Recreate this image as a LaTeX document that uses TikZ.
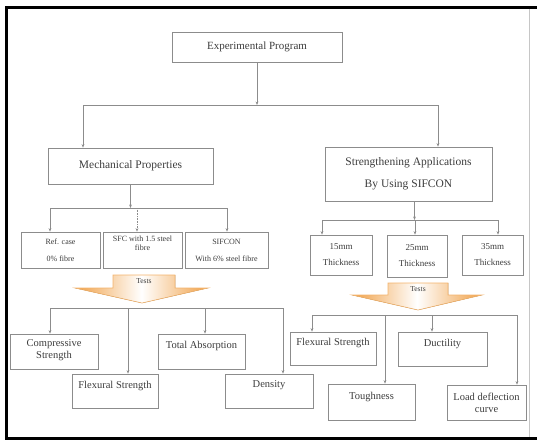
\documentclass[tikz,border=0pt]{standalone}
\usepackage{fontspec}
\setmainfont{Liberation Serif}
\usepackage{tikz}
\usetikzlibrary{arrows.meta}
\definecolor{boxgray}{RGB}{140,140,140}
\definecolor{txtgray}{RGB}{60,60,60}
\definecolor{testorange}{RGB}{240,160,70}

\begin{document}
\begin{tikzpicture}[x=1pt,y=-1pt,
  box/.style={draw=boxgray, line width=0.7pt, inner sep=1pt, align=center, text=txtgray},
  topbox/.style={box, text depth=13pt},
  link/.style={draw=boxgray, line width=0.6pt},
  arr/.style={link, -{Stealth[length=3.5pt,width=2.8pt]}},
  testarrow/.style={draw=testorange!80, line width=0.6pt, left color=testorange, right color=testorange, middle color=white}]
\useasboundingbox (0,0) rectangle (537,441);
% Frame
\draw[line width=3pt] (537,8) -- (6.5,8) -- (6.5,438) -- (537,438);
\draw[boxgray!50, line width=0.6pt] (529,9.5) -- (529,436.5);
%TOP
\node[box, minimum width=170pt, minimum height=30pt, font=\fontsize{11}{13}\selectfont] (exp) at (257,47) {Experimental Program};
\node[box, minimum width=165pt, minimum height=36pt, font=\fontsize{11.5}{13}\selectfont] (mech) at (130.5,166) {Mechanical Properties};
\node[box, minimum width=167pt, minimum height=54pt, font=\fontsize{11.5}{13}\selectfont] (stren) at (408.5,174) {Strengthening Applications\\[9pt]By Using SIFCON};
\coordinate (jl) at (83,105);
\coordinate (jr) at (438,105);
\draw[arr] (exp) -- (exp.south |- jl);
\draw[link] (jl) -- (jr);
\draw[arr] (jl) -- (jl |- mech.north);
\draw[arr] (jr) -- (jr |- stren.north);
%LEFT: mixes
\node[box, minimum width=79pt, minimum height=36pt, font=\fontsize{8}{9}\selectfont] (ref) at (60.5,250) {Ref. case\\[8pt]0\% fibre};
\node[topbox, minimum width=79pt, minimum height=36pt, font=\fontsize{8}{9}\selectfont] (sfc) at (142.5,250) {SFC with 1.5 steel\\fibre};
\node[box, minimum width=83pt, minimum height=36pt, font=\fontsize{8}{9}\selectfont] (sif) at (226.5,250) {SIFCON\\[8pt]With 6\% steel fibre};
\coordinate (ml) at (50,208);
\coordinate (mm) at (137,208);
\coordinate (mr) at (227,208);
\draw[arr] (mech) -- (mech.south |- ml);
\draw[link] (ml) -- (mr);
\draw[arr] (ml) -- (ml |- ref.north);
\draw[arr, densely dotted] (mm) -- (mm |- sfc.north);
\draw[arr] (mr) -- (mr |- sif.north);
%RIGHT: thickness
\node[box, minimum width=62pt, minimum height=40pt, font=\fontsize{9}{10}\selectfont] (mm15) at (341,255) {15mm\\[6pt]Thickness};
\node[box, minimum width=60pt, minimum height=42pt, font=\fontsize{9}{10}\selectfont] (mm25) at (417,256) {25mm\\[6pt]Thickness};
\node[box, minimum width=61pt, minimum height=40pt, font=\fontsize{9}{10}\selectfont] (mm35) at (492.5,255) {35mm\\[6pt]Thickness};
\coordinate (sl) at (322,220);
\coordinate (sm) at (415,220);
\coordinate (sr) at (498,220);
\draw[arr] ([xshift=6pt]stren.south) -- ([xshift=6pt]stren.south |- sl);
\draw[link] (sl) -- (sr);
\draw[arr] (sl) -- (sl |- mm15.north);
\draw[arr] (sm) -- (sm |- mm25.north);
\draw[arr] (sr) -- (sr |- mm35.north);
% Tests arrows
\filldraw[testarrow] (113,275) -- (175,275) -- (175,288) -- (208,288) -- (142,303) -- (75,288) -- (113,288) -- cycle;
\node[text=txtgray, font=\fontsize{7.5}{8}\selectfont] (testsL) at (144,281) {Tests};
\filldraw[testarrow] (388,283) -- (448,283) -- (448,295) -- (482,295) -- (418,310) -- (352,295) -- (388,295) -- cycle;
\node[text=txtgray, font=\fontsize{7.5}{8}\selectfont] (testsR) at (418,289) {Tests};
%BOT LEFT
\node[topbox, minimum width=88pt, minimum height=35pt, font=\fontsize{10.5}{12}\selectfont, text depth=5pt] (comp) at (54,351.5) {Compressive\\Strength};
\node[topbox, minimum width=86pt, minimum height=34pt, font=\fontsize{10.5}{12}\selectfont] (flexL) at (115,391) {Flexural Strength};
\node[topbox, minimum width=87pt, minimum height=35pt, font=\fontsize{10.5}{12}\selectfont] (tot) at (201.5,351.5) {Total Absorption};
\node[topbox, minimum width=88pt, minimum height=34pt, font=\fontsize{10.5}{12}\selectfont] (dens) at (269,391) {Density};
\coordinate (tl) at (50,308);
\coordinate (tml) at (128,308);
\coordinate (tmr) at (205,308);
\coordinate (tr) at (283,308);
\draw[link] (tl) -- (tr);
\draw[arr] (tl) -- (tl |- comp.north);
\draw[arr] (tml) -- (tml |- flexL.north);
\draw[arr] (tmr) -- (tmr |- tot.north);
\draw[arr] (tr) -- (tr |- dens.north);
%BOT RIGHT
\node[topbox, minimum width=86pt, minimum height=33pt, font=\fontsize{10.5}{12}\selectfont] (flexR) at (333,348.5) {Flexural Strength};
\node[topbox, minimum width=89pt, minimum height=34pt, font=\fontsize{10.5}{12}\selectfont] (duct) at (442.5,349) {Ductility};
\node[topbox, minimum width=87pt, minimum height=36pt, font=\fontsize{10.5}{12}\selectfont] (tough) at (371.5,402) {Toughness};
\node[box, minimum width=79pt, minimum height=35pt, font=\fontsize{10.5}{12}\selectfont] (load) at (486.5,402.5) {Load deflection\\curve};
\coordinate (ul) at (312,315);
\coordinate (uml) at (385,315);
\coordinate (umr) at (432,315);
\coordinate (ur) at (517,315);
\draw[link] (ul) -- (ur);
\draw[arr] (ul) -- (ul |- flexR.north);
\draw[arr] (uml) -- (uml |- tough.north);
\draw[arr] (umr) -- (umr |- duct.north);
\draw[arr] (ur) -- (ur |- load.north);
\end{tikzpicture}
\end{document}
